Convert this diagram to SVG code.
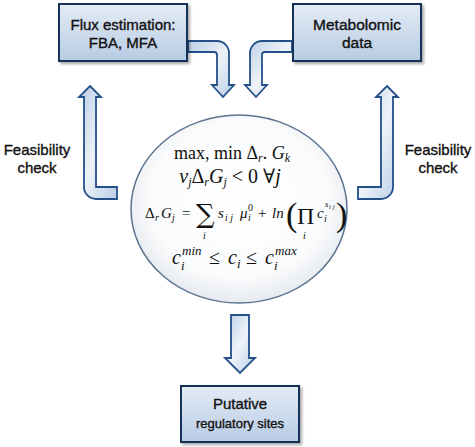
<svg xmlns="http://www.w3.org/2000/svg" width="475" height="447" viewBox="0 0 475 447">
<defs>
<linearGradient id="boxg" x1="0" y1="0" x2="0" y2="1">
<stop offset="0" stop-color="#e4ecf6"/><stop offset="1" stop-color="#b7cbe3"/>
</linearGradient>
<linearGradient id="arrg" x1="0" y1="0" x2="1" y2="1">
<stop offset="0" stop-color="#b9cde5"/><stop offset="0.5" stop-color="#eef3f9"/><stop offset="1" stop-color="#b9cde5"/>
</linearGradient>
<radialGradient id="ellg" cx="0.5" cy="0.45" r="0.55">
<stop offset="0" stop-color="#ffffff"/><stop offset="0.75" stop-color="#fafbfc"/><stop offset="1" stop-color="#e6eaef"/>
</radialGradient>
<filter id="sh" x="-10%" y="-10%" width="130%" height="130%">
<feGaussianBlur in="SourceAlpha" stdDeviation="1.5"/><feOffset dx="1.5" dy="1.5"/>
<feComponentTransfer><feFuncA type="linear" slope="0.35"/></feComponentTransfer>
<feMerge><feMergeNode/><feMergeNode in="SourceGraphic"/></feMerge>
</filter>
</defs>
<style>
.box{fill:url(#boxg);stroke:#17325a;stroke-width:2;filter:url(#sh)}
.arr{fill:url(#arrg);stroke:#24508a;stroke-width:1.8;stroke-linejoin:miter}
.lbl{font-family:"Liberation Sans",Arial,sans-serif;fill:#111;text-anchor:middle;stroke:#111;stroke-width:0.35}
.m{font-family:"Liberation Serif","DejaVu Serif",serif;fill:#111}
.big{font-family:"DejaVu Serif",serif}
.it{font-style:italic}
</style>

<g id="connectors">
<path class="arr" d="M188,41 H217 A12,12 0 0 1 229,53 V85 H234 L223,97 L212,85 H217 V55 A3,3 0 0 0 214,52 H188 Z"/>
<path class="arr" d="M292,41 H262 A12,12 0 0 0 250,53 V85 H245 L256,97 L267,85 H262 V55 A3,3 0 0 1 265,52 H292 Z"/>
<path class="arr" d="M90,86 L101,97 H96 V187 H117 V199 H96 A12,12 0 0 1 84,187 V97 H79 Z"/>
<path class="arr" d="M387,86 L398,97 H393 V187 A12,12 0 0 1 381,199 H358 V187 H381 V97 H376 Z"/>
<path class="arr" d="M231,315 H249 V358 H255 L240,373 L225,358 H231 Z"/>
</g>

<g id="flux">
<rect class="box" x="59" y="4" width="128" height="57"/>
<text class="lbl" x="123" y="30" font-size="15">Flux estimation:</text>
<text class="lbl" x="123" y="48" font-size="15">FBA, MFA</text>
</g>

<g id="metabolomic">
<rect class="box" x="293" y="4" width="128" height="57"/>
<text class="lbl" x="357" y="30" font-size="15.5">Metabolomic</text>
<text class="lbl" x="357" y="48" font-size="15.5">data</text>
</g>

<g id="feas-left">
<text class="lbl" x="37" y="155" font-size="15">Feasibility</text>
<text class="lbl" x="37" y="173" font-size="15">check</text>
</g>
<g id="feas-right">
<text class="lbl" x="438" y="155" font-size="15">Feasibility</text>
<text class="lbl" x="438" y="173" font-size="15">check</text>
</g>

<g id="model">
<ellipse cx="239" cy="209" rx="108" ry="94" fill="url(#ellg)" stroke="#5a7490" stroke-width="1.5"/>
<text class="m" x="232" y="159" font-size="18" text-anchor="middle">max, min Δ<tspan font-size="12" class="it" dy="3">r</tspan><tspan dy="-3">. </tspan><tspan class="it">G</tspan><tspan font-size="12" class="it" dy="3">k</tspan></text>
<text class="m" x="230" y="183" font-size="20" text-anchor="middle"><tspan class="it">v</tspan><tspan font-size="12" class="it" dy="3">j</tspan><tspan dy="-3">Δ</tspan><tspan font-size="12" class="it" dy="3">r</tspan><tspan class="it" dy="-3">G</tspan><tspan font-size="12" class="it" dy="3">j</tspan><tspan dy="-3"> &lt; 0 ∀</tspan><tspan class="it">j</tspan></text>
<g class="m" font-size="15">
<text x="145" y="218">Δ</text>
<text x="155" y="221" font-size="10" class="it">r</text>
<text x="161" y="218" class="it">G</text>
<text x="172" y="221" font-size="10" class="it">j</text>
<text x="182" y="218">=</text>
<text x="196" y="223" font-size="26" class="big">∑</text>
<text x="203" y="239" font-size="10" class="it">i</text>
<text x="218" y="218" class="it">s</text>
<text x="225" y="221" font-size="10" class="it">i j</text>
<text x="240" y="218" class="it">μ</text>
<text x="248" y="221" font-size="10" class="it">i</text>
<text x="248" y="211" font-size="10">0</text>
<text x="258" y="218">+</text>
<text x="272" y="218" class="it">ln</text>
<text x="286" y="226" font-size="34">(</text>
<text x="297" y="224" font-size="24">Π</text>
<text x="303" y="239" font-size="10" class="it">i</text>
<text x="317" y="218" class="it">c</text>
<text x="324" y="222" font-size="10" class="it">i</text>
<text x="325" y="207" font-size="9" class="it">s</text>
<text x="329" y="209" font-size="7" class="it">i j</text>
<text x="336" y="226" font-size="34">)</text>
</g>
<g class="m" font-size="20">
<text x="172" y="264" class="it">c</text>
<text x="182" y="255" font-size="13" class="it">min</text>
<text x="181" y="270" font-size="13" class="it">i</text>
<text x="209" y="264">≤</text>
<text x="228" y="264" class="it">c</text>
<text x="237" y="268" font-size="13" class="it">i</text>
<text x="246" y="264">≤</text>
<text x="265" y="264" class="it">c</text>
<text x="275" y="255" font-size="13" class="it">max</text>
<text x="274" y="270" font-size="13" class="it">i</text>
</g>
</g>

<g id="putative">
<rect class="box" x="181" y="386" width="118" height="56"/>
<text class="lbl" x="240" y="409" font-size="15">Putative</text>
<text class="lbl" x="240" y="428" font-size="13" stroke-width="0.2">regulatory sites</text>
</g>
</svg>
